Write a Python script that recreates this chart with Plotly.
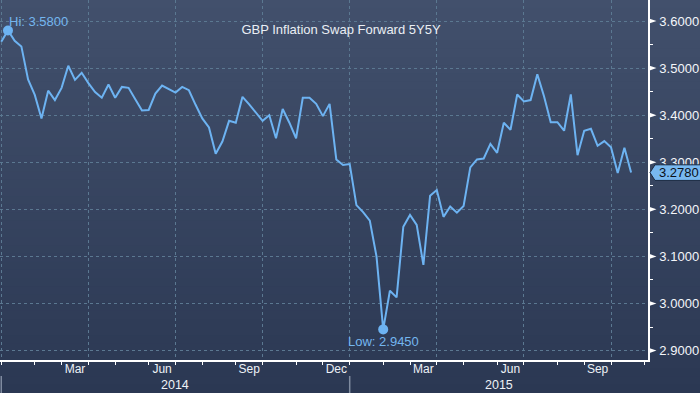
import plotly.graph_objects as go
import pandas as pd

# ---------------- data ----------------
start_date = "2014-01-03"          # weekly (Friday) observations
values = [
    3.556, 3.580, 3.558, 3.546, 3.476, 3.443, 3.393, 3.452, 3.432, 3.458,
    3.505, 3.475, 3.490, 3.468, 3.449, 3.437, 3.465, 3.437, 3.460, 3.458,
    3.434, 3.410, 3.411, 3.446, 3.463, 3.456, 3.448, 3.460, 3.453, 3.422,
    3.393, 3.374, 3.318, 3.344, 3.388, 3.384, 3.439, 3.423, 3.406, 3.388,
    3.400, 3.351, 3.413, 3.384, 3.351, 3.437, 3.437, 3.424, 3.398, 3.424,
    3.306, 3.294, 3.296, 3.209, 3.194, 3.176, 3.100, 2.945, 3.027, 3.013,
    3.163, 3.188, 3.167, 3.082, 3.229, 3.241, 3.184, 3.206, 3.193, 3.207,
    3.289, 3.306, 3.308, 3.339, 3.320, 3.384, 3.369, 3.444, 3.429, 3.432,
    3.487, 3.440, 3.385, 3.385, 3.367, 3.444, 3.315, 3.367, 3.371, 3.335,
    3.345, 3.332, 3.277, 3.331, 3.278,
]
y_ticks = [2.9, 3.0, 3.1, 3.2, 3.3, 3.4, 3.5, 3.6]
y_minor = [2.95, 3.05, 3.15, 3.25, 3.35, 3.45, 3.55]
label_months = [3, 6, 9, 12]          # months that get a label
grid_months = [1, 4, 7, 10]           # months that start a gridline
title_text = "GBP Inflation Swap Forward 5Y5Y"

# ---------------- derived positions (index space like Bloomberg) ----------------
n = len(values)
x_range = [-0.19, 96.52]
all_dates = pd.date_range(start_date, periods=int(x_range[1]) + 1, freq="W-FRI")
dates = all_dates[:n]
idx = list(range(n))

month_start = {}
for k, d in enumerate(all_dates):
    key = (d.year, d.month)
    if key not in month_start:
        month_start[key] = k
keys = list(month_start.keys())
tick_month_starts = [month_start[k] for k in keys]
grid_vals = [month_start[k] for k in keys if k[1] in grid_months]
lab_vals, lab_text = [], []
for i, key in enumerate(keys[:-1]):
    if key[1] in label_months:
        lab_vals.append((month_start[key] + month_start[keys[i + 1]]) / 2)
        lab_text.append(pd.Timestamp(year=key[0], month=key[1], day=1).strftime("%b"))

year_starts = {}
for k, d in enumerate(all_dates):
    year_starts.setdefault(d.year, k)
years = sorted(year_starts)
year_centers = []
for i, yr in enumerate(years):
    s = year_starts[yr]
    e = year_starts[years[i + 1]] if i + 1 < len(years) else x_range[1]
    year_centers.append((s + e) / 2)

hi_k = max(idx, key=lambda k: values[k])
lo_k = min(idx, key=lambda k: values[k])
last_k = n - 1

# ---------------- styling ----------------
FONT = "Liberation Sans"
LINE = "#6db3f2"
GRID = "#5b7891"
W, H = 700, 393
ML, MR, MT, MB = 0, 52, 0, 33
PW, PH = W - ML - MR, H - MT - MB
y_range = [2.880, 3.6446]

fig = go.Figure()
fig.add_trace(go.Scatter(x=idx, y=values, mode="lines",
                         line=dict(color=LINE, width=2), hoverinfo="skip"))
fig.add_trace(go.Scatter(x=[hi_k, lo_k], y=[values[hi_k], values[lo_k]], mode="markers",
                         marker=dict(color=LINE, size=10), hoverinfo="skip"))
# helper traces for overlay axes
fig.add_trace(go.Scatter(x=[0], y=[3.0], xaxis="x2", mode="markers",
                         marker=dict(opacity=0), hoverinfo="skip"))
fig.add_trace(go.Scatter(x=[0], y=[3.0], xaxis="x3", mode="markers",
                         marker=dict(opacity=0), hoverinfo="skip"))

shapes = []
# background gradient
top_c = (66, 80, 108)
bot_c = (43, 56, 83)
NB = 48
y_top, y_bot = 1.0, -MB / PH
for i in range(NB):
    t = (i + 0.5) / NB
    c = tuple(int(round(top_c[j] + (bot_c[j] - top_c[j]) * t)) for j in range(3))
    y0 = y_top - (y_top - y_bot) * i / NB
    y1 = y_top - (y_top - y_bot) * (i + 1) / NB
    shapes.append(dict(type="rect", xref="paper", yref="paper", x0=-0.01, x1=W / PW + 0.01,
                       y0=y1 - 0.001, y1=y0 + 0.001, fillcolor="rgb(%d,%d,%d)" % c,
                       line=dict(width=0), layer="below"))
# y-axis tick triangles
for v in y_ticks:
    d = 2.6 / PH * (y_range[1] - y_range[0])
    shapes.append(dict(type="path", xref="paper", yref="y",
                       path="M %f,%f L %f,%f L %f,%f Z" % (1.0015, v + d, 1.0015, v - d, 1.0015 + 7.5 / PW, v),
                       fillcolor="white", line=dict(width=0), layer="above"))
# year separators
for yr in years:
    k = year_starts[yr]
    if x_range[0] <= k <= x_range[1]:
        shapes.append(dict(type="line", xref="x", yref="paper", x0=k, x1=k,
                           y0=-16 / PH, y1=-MB / PH, line=dict(color="#7f8ba0", width=1.5)))
# last value tag
lv = values[last_k]
hh = 7.8 / PH * (y_range[1] - y_range[0])
xl, xr, xp = 655 / PW, 701 / PW, 650 / PW
shapes.append(dict(type="path", xref="paper", yref="y",
                   path="M %f,%f L %f,%f L %f,%f L %f,%f L %f,%f Z" % (
                       xp, lv, xl, lv + hh, xr, lv + hh, xr, lv - hh, xl, lv - hh),
                   fillcolor="#78b8f0", line=dict(color="#1c2a40", width=1), layer="above"))

annotations = [
    dict(x=hi_k, y=values[hi_k], xref="x", yref="y", text="Hi: %.4f" % values[hi_k],
         showarrow=False, xanchor="left", yanchor="bottom", xshift=-1, yshift=-1,
         font=dict(family=FONT, size=13, color="#74b6ef")),
    dict(x=lo_k, y=values[lo_k], xref="x", yref="y", text="Low: %.4f" % values[lo_k],
         showarrow=False, xanchor="center", yanchor="top", yshift=-3,
         font=dict(family=FONT, size=13, color="#74b6ef")),
    dict(x=657 / PW, y=lv, xref="paper", yref="y", text="%.4f" % lv, showarrow=False,
         xanchor="left", yanchor="middle", font=dict(family=FONT, size=13, color="#0b0f18")),
]
for yr, c in zip(years, year_centers):
    annotations.append(dict(x=c, y=-25 / PH, xref="x", yref="paper", text=str(yr),
                            showarrow=False, xanchor="center", yanchor="middle",
                            font=dict(family=FONT, size=12.5, color="#eef2f7")))

fig.update_layout(
    width=W, height=H, margin=dict(l=ML, r=MR, t=MT, b=MB),
    paper_bgcolor="#35425e", plot_bgcolor="rgba(0,0,0,0)",
    showlegend=False,
    title=dict(text=title_text, x=341 / W, xanchor="center", y=1 - 29 / H, yanchor="middle",
               font=dict(family=FONT, size=13, color="#eaeef4")),
    xaxis=dict(range=x_range, tickvals=grid_vals, showticklabels=False, ticks="",
               showgrid=True, gridcolor=GRID, griddash="dot", gridwidth=1,
               showline=True, linecolor="white", linewidth=1.5, zeroline=False),
    xaxis2=dict(overlaying="x", anchor="y", range=x_range, tickvals=tick_month_starts,
                showticklabels=False, ticks="outside", ticklen=4, tickwidth=1.2,
                tickcolor="white", showgrid=False, showline=False, zeroline=False),
    xaxis3=dict(overlaying="x", anchor="y", range=x_range, tickvals=lab_vals, ticktext=lab_text,
                ticks="", showgrid=False, showline=False, zeroline=False,
                tickfont=dict(family=FONT, size=12, color="#eef2f7")),
    yaxis=dict(range=y_range, side="right", tickvals=y_ticks, tickformat=".4f",
               ticks="outside", ticklen=7, tickcolor="rgba(0,0,0,0)",
               tickfont=dict(family=FONT, size=13, color="#f4f6fa"),
               showgrid=True, gridcolor=GRID, griddash="dot", gridwidth=1,
               showline=True, linecolor="white", linewidth=1.5, zeroline=False,
               minor=dict(tickvals=y_minor, ticks="outside", ticklen=3, tickcolor="white",
                          showgrid=False)),
    shapes=shapes, annotations=annotations,
)

fig.write_html("out.html", config={"displayModeBar": False},
               post_script="document.body.style.margin='0';document.body.style.overflow='hidden';")
